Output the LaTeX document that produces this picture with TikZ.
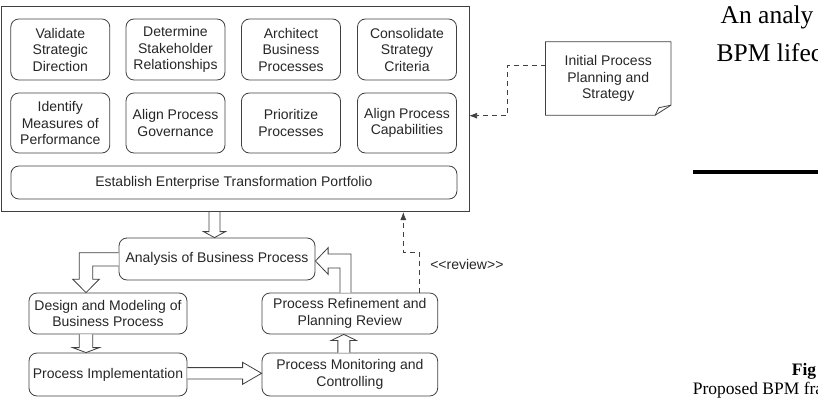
\documentclass[tikz,border=0pt]{standalone}
\usepackage{fontspec}
\setmainfont{Liberation Sans}
\newfontfamily\pagefont{Liberation Serif}
\usetikzlibrary{calc,arrows.meta}
\definecolor{linegray}{gray}{0.25}
\tikzstyle{task} = [draw=linegray, thick, rounded corners=8pt, align=center, inner sep=0pt, text=black!85, font=\fontsize{14}{16.5}\selectfont]
\begin{document}
\begin{tikzpicture}[x=1pt,y=1pt,
			frm/.style={draw=linegray, semithick},
			blk/.style={draw=linegray, thick, fill=white, line join=miter},
			dsh/.style={draw=linegray, thick, dash pattern=on 5pt off 4pt, -{Latex[length=8pt,width=6pt]}},
			pagetext/.style={anchor=base west, inner sep=0pt, font=\pagefont\fontsize{25.5}{37}\selectfont}]
			\useasboundingbox (0,0) rectangle (818,402);
			\clip (0,0) rectangle (818,402);
			
			% planning frame
			\node (frame) [frm, minimum width=468pt, minimum height=205pt, anchor=south west] at (0.5,190) {};
			\node (v1) [task, minimum width=99pt, minimum height=61pt] at (60.3,352.5) {Validate\\Strategic\\Direction};
			\node (v2) [task, minimum width=99pt, minimum height=61pt] at (175.5,352.5) {Determine\\Stakeholder\\Relationships};
			\node (v3) [task, minimum width=99pt, minimum height=61pt] at (291,352.5) {Architect\\Business\\Processes};
			\node (v4) [task, minimum width=99pt, minimum height=61pt] at (407,352.5) {Consolidate\\Strategy\\Criteria};
			\node (w1) [task, minimum width=99pt, minimum height=60pt] at (60.3,279) {Identify\\Measures of\\Performance};
			\node (w2) [task, minimum width=99pt, minimum height=60pt] at (175.5,279) {Align Process\\Governance};
			\node (w3) [task, minimum width=99pt, minimum height=60pt] at (291,279) {Prioritize\\Processes};
			\node (w4) [task, minimum width=99pt, minimum height=60pt] at (407,279) {Align Process\\Capabilities};
			\node (est) [task, minimum width=446pt, minimum height=33pt] at (233.9,219.5) {Establish Enterprise Transformation Portfolio};
			
			% note
			\node (init) [align=center, inner sep=0pt, text=black!85, font=\fontsize{14}{16.5}\selectfont, minimum width=125pt, minimum height=73pt] at (608.2,323.5) {Initial Process\\Planning and\\Strategy};
			\draw[linegray, thick] (init.north west) -- (init.north east) -- ($(init.south east)+(0,10)$) -- ($(init.south east)+(-15.7,0)$) -- (init.south west) -- cycle;
			\draw[linegray, thick] ($(init.south east)+(-15.7,0)$) -- ($(init.south east)+(-12,7.5)$) -- ($(init.south east)+(0,10)$);
			\coordinate (b1) at (507.3,286.3);
			\draw[dsh] ($(init.west)+(0,12.8)$) -| (b1) -- (frame.east |- b1);
			
			% lifecycle
			\node (ana) [task, minimum width=196pt, minimum height=42pt] at (217,143) {Analysis of Business Process};
			\node (des) [task, minimum width=158pt, minimum height=41pt] at (108,88.5) {Design and Modeling of\\Business Process};
			\node (imp) [task, minimum width=158pt, minimum height=43pt] at (108,27.5) {Process Implementation};
			\node (ref) [task, minimum width=175.7pt, minimum height=41pt] at (349.85,88.5) {Process Refinement and\\Planning Review};
			\node (mon) [task, minimum width=175.7pt, minimum height=43pt] at (349.85,27.5) {Process Monitoring and\\Controlling};
			
			\draw[blk] let \p1=(frame.south), \p2=($(ana.north)+(-2.5,0)$) in (\x2-5.5pt,\y1) -- (\x2-5.5pt,\y2+6pt) -- (\x2-11pt,\y2+6pt) -- (\x2,\y2) -- (\x2+11pt,\y2+6pt) -- (\x2+5.5pt,\y2+6pt) -- (\x2+5.5pt,\y1);
			\draw[blk] let \p1=(ana.west), \p2=($(des.north)+(-22,0)$) in (\x1,\y1+6.3pt) -- (\x2-6.7pt,\y1+6.3pt) -- (\x2-6.7pt,\y2+13.4pt) -- (\x2-13.3pt,\y2+13.4pt) -- (\x2,\y2) -- (\x2+13.3pt,\y2+13.4pt) -- (\x2+6.7pt,\y2+13.4pt) -- (\x2+6.7pt,\y1-7pt) -- (\x1,\y1-7pt);
			\draw[blk] let \p1=($(des.south)+(-22,0)$), \p2=(imp.north) in (\x1-6.7pt,\y1) -- (\x1-6.7pt,\y2+5pt) -- (\x1-13.4pt,\y2+5pt) -- (\x1,\y2) -- (\x1+13.4pt,\y2+5pt) -- (\x1+6.7pt,\y2+5pt) -- (\x1+6.7pt,\y1);
			\draw[blk] let \p1=(imp.east), \p2=(mon.west) in (\x1,\y1+6.9pt) -- (\x2-19pt,\y1+6.9pt) -- (\x2-19pt,\y1+12.2pt) -- (\x2,\y1+1.2pt) -- (\x2-19pt,\y1-9.8pt) -- (\x2-19pt,\y1-4.5pt) -- (\x1,\y1-4.5pt);
			\draw[blk] let \p1=($(mon.north)+(-6,0)$), \p2=(ref.south) in (\x1-6pt,\y1) -- (\x1-6pt,\y2-6pt) -- (\x1-12.5pt,\y2-6pt) -- (\x1,\y2) -- (\x1+12.5pt,\y2-6pt) -- (\x1+6pt,\y2-6pt) -- (\x1+6pt,\y1);
			\draw[blk] let \p1=($(ref.north)+(-4.35,0)$), \p2=(ana.east) in (\x1-5.5pt,\y1) -- (\x1-5.5pt,\y2-9pt) -- (\x2+12.7pt,\y2-9pt) -- (\x2+12.7pt,\y2-15.3pt) -- (\x2,\y2-2pt) -- (\x2+12.7pt,\y2+11.3pt) -- (\x2+12.7pt,\y2+5pt) -- (\x1+5.5pt,\y2+5pt) -- (\x1+5.5pt,\y1);
			
			\coordinate (b2) at (403.3,149.7);
			\draw[dsh] ($(ref.north)+(69.5,0)$) |- (b2) -- (frame.south -| b2);
			\node (rev) [text=black!85, font=\fontsize{14}{16.5}\selectfont] at (466.85,138) {<\kern0pt<review>\kern0pt>};
			
			% page around the figure
			\node (ttl1) [pagetext] at (720.5,378) {An analy};
			\node (ttl2) [pagetext] at (716.5,340.3) {BPM lifec};
			\draw[line width=3.3pt] (692.7,230) -- (818,230);
			\node (fig) [anchor=base west, inner sep=0pt, font=\pagefont\bfseries\fontsize{17.5}{20}\selectfont] at (791.7,27) {Fig};
			\node (cap) [anchor=base west, inner sep=0pt, font=\pagefont\fontsize{17.5}{20}\selectfont] at (692.7,8) {Proposed BPM fra};
		\end{tikzpicture}
\end{document}
